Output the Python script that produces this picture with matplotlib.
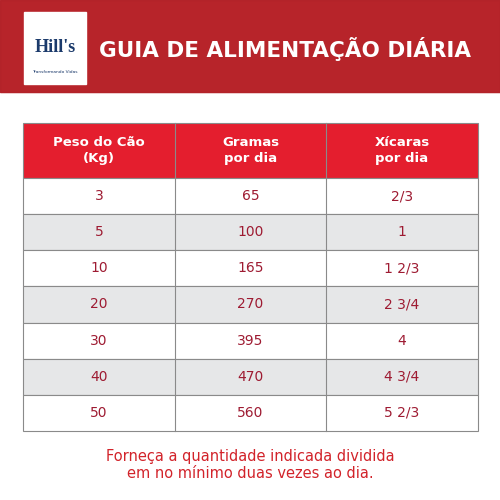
import matplotlib
matplotlib.use("Agg")
import matplotlib.pyplot as plt
from matplotlib.patches import Rectangle, FancyBboxPatch

headers = ["Peso do Cão\n(Kg)", "Gramas\npor dia", "Xícaras\npor dia"]
peso = ["3", "5", "10", "20", "30", "40", "50"]
gramas = ["65", "100", "165", "270", "395", "470", "560"]
xicaras = ["2/3", "1", "1 2/3", "2 3/4", "4", "4 3/4", "5 2/3"]
title = "GUIA DE ALIMENTAÇÃO DIÁRIA"
footer = "Forneça a quantidade indicada dividida\nem no mínimo duas vezes ao dia."

fig = plt.figure(figsize=(5, 5), dpi=100)
ax = fig.add_axes([0, 0, 1, 1])
ax.set_xlim(0, 500); ax.set_ylim(500, 0); ax.axis("off")

red = "#c1272d"; dark = "#a51c30"; txt = "#9e1b32"
ax.add_patch(Rectangle((0, 0), 500, 92, color=red))
ax.add_patch(Rectangle((0, 0), 500, 92, color="#9c1f24", alpha=0.25))
# logo
ax.add_patch(Rectangle((24, 12), 62, 72, color="white"))
ax.text(55, 48, "Hill's", ha="center", va="center", fontsize=13, fontweight="bold",
        color="#1b3a6b", family="Liberation Serif")
ax.text(55, 72, "Transformando Vidas", ha="center", va="center", fontsize=3.2, color="#1b3a6b")
ax.text(285, 49, title, ha="center", va="center", fontsize=15.5, fontweight="bold", color="white")

x0, x1 = 23, 478
cols = [23, 175, 326, 478]
ytop, yhead = 123, 178
rh = (431 - yhead) / len(peso)
ax.add_patch(Rectangle((x0, ytop), x1 - x0, yhead - ytop, facecolor="#e41e2e", edgecolor="#8a8a8a", lw=0.8))
for j, h in enumerate(headers):
    ax.text((cols[j] + cols[j+1]) / 2, (ytop + yhead) / 2, h, ha="center", va="center",
            color="white", fontsize=9.5, fontweight="bold", linespacing=1.3)
for i, row in enumerate(zip(peso, gramas, xicaras)):
    y = yhead + i * rh
    fc = "#e6e7e8" if i % 2 == 1 else "white"
    ax.add_patch(Rectangle((x0, y), x1 - x0, rh, facecolor=fc, edgecolor="#8a8a8a", lw=0.8))
    for j, v in enumerate(row):
        ax.text((cols[j] + cols[j+1]) / 2, y + rh / 2, v, ha="center", va="center",
                color=txt, fontsize=10)
for c in cols[1:3]:
    ax.plot([c, c], [ytop, 431], color="#8a8a8a", lw=0.8)
ax.text(250, 465, footer, ha="center", va="center", color="#d2232a", fontsize=10.5, linespacing=1.25)
fig.savefig("out.png", dpi=100)
